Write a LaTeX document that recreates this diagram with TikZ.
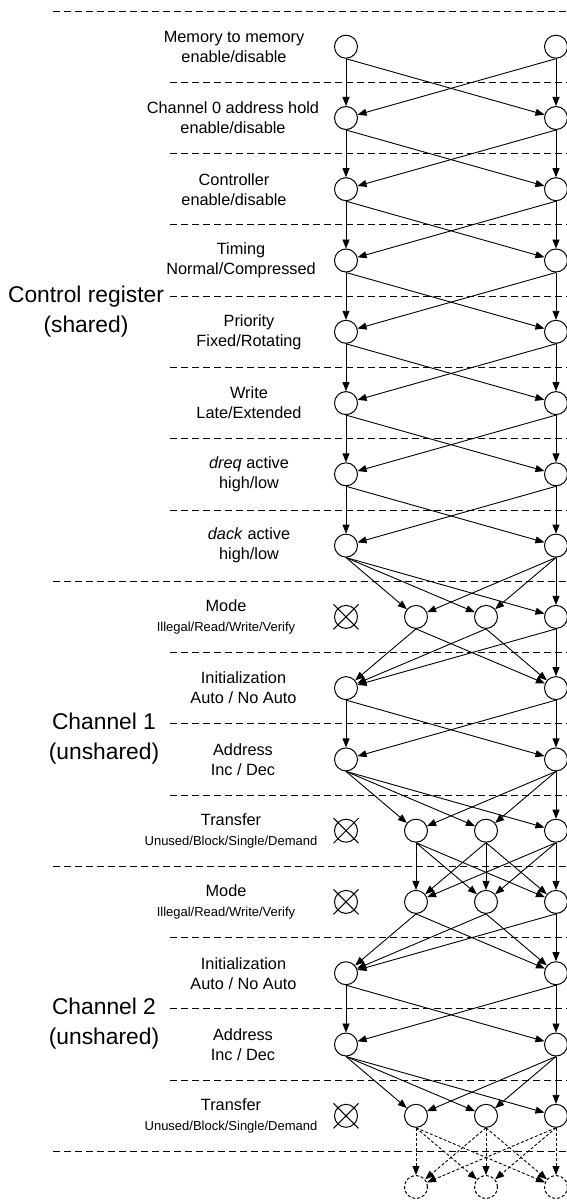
\documentclass[tikz,border=0pt]{standalone}
\usepackage{fontspec}
\setmainfont{Liberation Sans}
\usetikzlibrary{arrows.meta}
\newcommand\smallsz{\fontsize{13}{16}\selectfont}
\begin{document}
\begin{tikzpicture}[x=1pt,y=-1pt,
  st/.style={circle,draw,line width=1pt,minimum size=23pt,inner sep=0pt},
  dst/.style={st,dash pattern=on 3pt off 2pt},
  arr/.style={line width=0.9pt,-{Triangle[length=9pt,width=7pt]}},
  darr/.style={arr,dash pattern=on 3pt off 2pt},
  sep/.style={line width=1pt,dash pattern=on 7pt off 4pt},
  xline/.style={line width=1pt},
  lbl/.style={align=center,inner sep=0pt,font=\fontsize{16.3}{20}\selectfont},
  big/.style={align=center,inner sep=0pt,font=\fontsize{22.8}{30}\selectfont}]
\useasboundingbox (0,0) rectangle (567,1201);

% separators
\foreach \y in {11.1,581.2,866.3,1151.4} \draw[sep] (53,\y) -- (567,\y);
\foreach \y in {82.3,153.6,224.9,296.2,367.4,438.7,510.0,652.5,723.8,795.0,937.6,1008.8,1080.1} \draw[sep] (170,\y) -- (567,\y);

% big labels
\node[big] (cr)  at (86,312)  {Control register\\(shared)};
\node[big] (ch1) at (104,739) {Channel 1\\(unshared)};
\node[big] (ch2) at (104,1024) {Channel 2\\(unshared)};

% two-column rows
\foreach \k/\y in {0/46.7,1/118.0,2/189.2,3/260.5,4/331.8,5/403.1,6/474.3,7/545.6,9/688.1,10/759.4,13/973.2,14/1044.5}{
  \node[st] (L\k) at (346,\y) {};
  \node[st] (R\k) at (556,\y) {};
}
% three-column rows with crossed-out state
\foreach \k/\y in {8/616.9,11/830.7,12/901.9,15/1115.8}{
  \node[st] (a\k) at (346,\y) {};
  \draw[xline] ([shift={(-12.5,-12.5)}]a\k.center) -- ([shift={(12.5,12.5)}]a\k.center);
  \draw[xline] ([shift={(-12.5,12.5)}]a\k.center) -- ([shift={(12.5,-12.5)}]a\k.center);
  \node[st] (b\k) at (416,\y) {};
  \node[st] (c\k) at (486,\y) {};
  \node[st] (d\k) at (556,\y) {};
}
\node[dst] (b16) at (416,1187) {};
\node[dst] (c16) at (486,1187) {};
\node[dst] (d16) at (556,1187) {};

% labels
\node[lbl] (t0) at (234,46.7) {Memory to memory\\enable/disable};
\node[lbl] (t1) at (233,118.0) {Channel 0 address hold\\enable/disable};
\node[lbl] (t2) at (234,189.2) {Controller\\enable/disable};
\node[lbl] (t3) at (241,260.5) {Timing\\Normal/Compressed};
\node[lbl] (t4) at (249,331.8) {Priority\\Fixed/Rotating};
\node[lbl] (t5) at (249,403.1) {Write\\Late/Extended};
\node[lbl] (t6) at (249,474.3) {\textit{dreq} active\\high/low};
\node[lbl] (t7) at (249,545.6) {\textit{dack} active\\high/low};
\node[lbl] (t8) at (226,616.9) {Mode\\{\smallsz Illegal/Read/Write/Verify}};
\node[lbl] (t9) at (243.5,688.1) {Initialization\\Auto / No Auto};
\node[lbl] (t10) at (243,759.4) {Address\\Inc / Dec};
\node[lbl] (t11) at (231,830.7) {Transfer\\{\smallsz Unused/Block/Single/Demand}};
\node[lbl] (t12) at (226,901.9) {Mode\\{\smallsz Illegal/Read/Write/Verify}};
\node[lbl] (t13) at (243.5,973.2) {Initialization\\Auto / No Auto};
\node[lbl] (t14) at (243,1044.5) {Address\\Inc / Dec};
\node[lbl] (t15) at (231,1115.8) {Transfer\\{\smallsz Unused/Block/Single/Demand}};

% connectors: two to two
\foreach \s/\t in {0/1,1/2,2/3,3/4,4/5,5/6,6/7,9/10,13/14}{
  \draw[arr] (L\s.south) -- (L\t);
  \draw[arr] (L\s.south) -- (R\t);
  \draw[arr] (R\s.south) -- (R\t);
  \draw[arr] (R\s.south) -- (L\t);
}
% two to three
\foreach \s/\t in {7/8,10/11,14/15}{
  \foreach \u in {L,R}{
    \foreach \v in {b,c,d}{ \draw[arr] (\u\s.south) -- (\v\t); }
  }
}
% three to two
\foreach \s/\t in {8/9,12/13}{
  \foreach \u in {b,c,d}{
    \foreach \v in {L,R}{ \draw[arr] (\u\s.south) -- (\v\t); }
  }
}
% three to three
\foreach \u in {b,c,d}{
  \foreach \v in {b,c,d}{
    \draw[arr] (\u11.south) -- (\v12);
    \draw[darr] (\u15.south) -- (\v16);
  }
}
\end{tikzpicture}
\end{document}
